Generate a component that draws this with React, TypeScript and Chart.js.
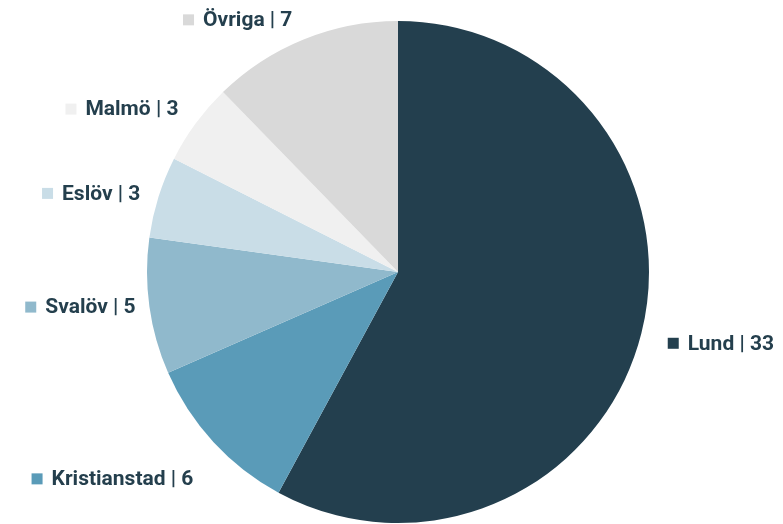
import React, { useEffect, useRef } from "react";
import { Chart, registerables } from "chart.js";

Chart.register(...registerables);

const categories = ["Lund", "Kristianstad", "Svalöv", "Eslöv", "Malmö", "Övriga"];
const values = [33, 6, 5, 3, 3, 7];
const colors = ["#233f4e", "#5a9bb8", "#90b9cc", "#c9dde7", "#f0f0f0", "#d9d9d9"];

const labelPlugin = {
  id: "outLabels",
  afterDatasetsDraw(chart: any, _args: any, opts: any) {
    const ctx = chart.ctx;
    const meta = chart.getDatasetMeta(0);
    const ds = chart.data.datasets[0];
    ctx.save();
    ctx.font = `bold ${opts.fontSize}px Roboto`;
    ctx.textBaseline = "middle";
    meta.data.forEach((arc: any, i: number) => {
      const p = arc.getProps(["x", "y", "startAngle", "endAngle", "outerRadius"], true);
      const mid = (p.startAngle + p.endAngle) / 2;
      const r = p.outerRadius + opts.offset;
      const nudge = (opts.nudges && opts.nudges[i]) || [0, 0];
      const ax = p.x + Math.cos(mid) * r + nudge[0];
      const ay = p.y + Math.sin(mid) * r + nudge[1];
      const text = `${chart.data.labels[i]} | ${ds.data[i]}`;
      const tw = ctx.measureText(text).width;
      const sq = opts.box;
      const gap = opts.gap;
      let sqX: number, txX: number;
      if (Math.cos(mid) >= 0) {
        sqX = ax;
        txX = ax + sq + gap;
      } else {
        txX = ax - tw;
        sqX = txX - gap - sq;
      }
      ctx.fillStyle = ds.backgroundColor[i];
      ctx.fillRect(sqX, ay - sq / 2, sq, sq);
      ctx.fillStyle = opts.color;
      ctx.textAlign = "left";
      ctx.fillText(text, txX, ay + 1);
    });
    ctx.restore();
  },
};

export default function App() {
  const ref = useRef<HTMLCanvasElement>(null);
  useEffect(() => {
    document.body.style.margin = "0";
    const chart = new Chart(ref.current!, {
      type: "pie",
      data: {
        labels: categories,
        datasets: [
          {
            data: values,
            backgroundColor: colors,
            borderWidth: 0,
          },
        ],
      },
      options: {
        responsive: false,
        animation: false,
        layout: { padding: { left: 147, right: 134, top: 21, bottom: 1 } },
        plugins: {
          legend: { display: false },
          tooltip: { enabled: false },
          outLabels: {
            fontSize: 21,
            offset: 19,
            box: 11,
            gap: 9,
            color: "#243f4d",
            nudges: [[8, 5], [-6, 24], [5, -2], [0, 2], [-2, -3], [-4, -2]],
          },
        } as any,
      },
      plugins: [labelPlugin],
    });
    return () => chart.destroy();
  }, []);
  return (
    <div style={{ position: "fixed", left: 0, top: 0, width: 783, height: 524 }}>
      <canvas ref={ref} width={783} height={524} />
    </div>
  );
}
